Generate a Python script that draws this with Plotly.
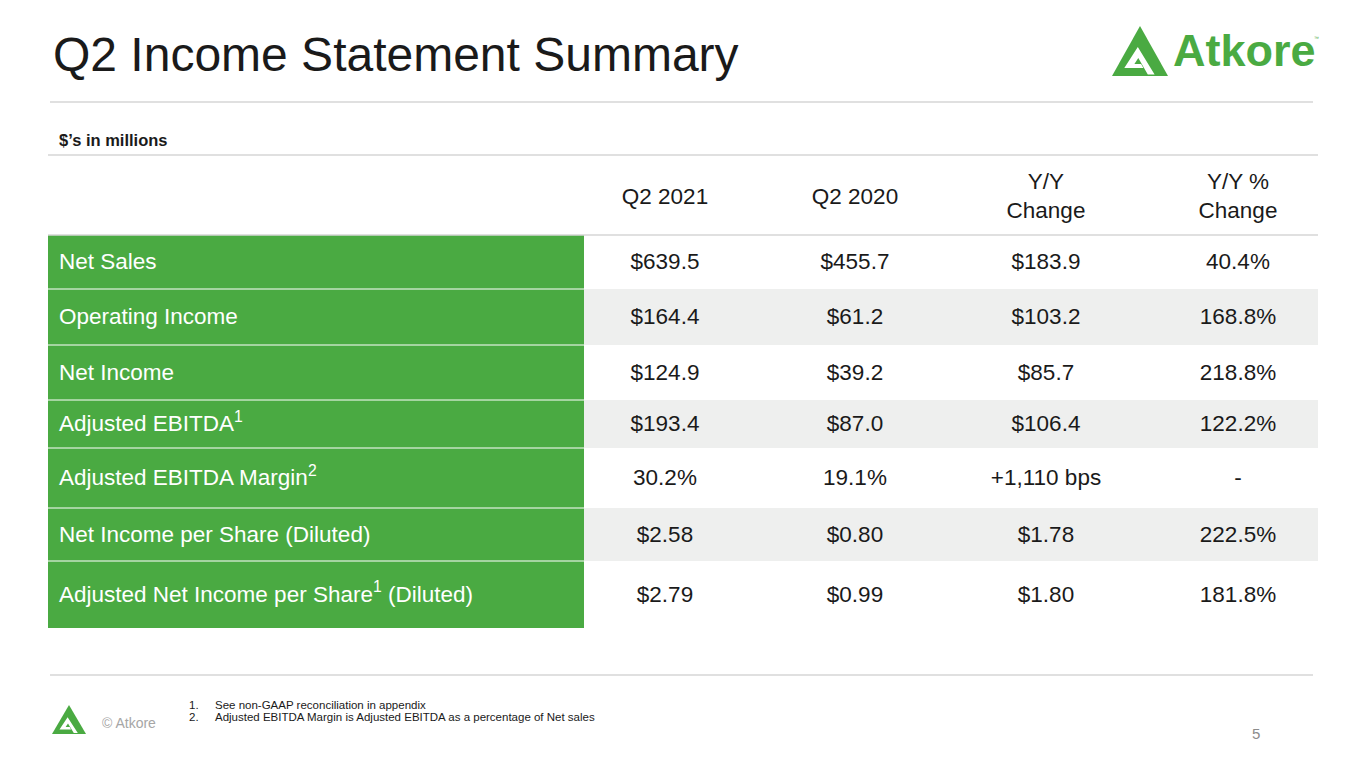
import plotly.graph_objects as go

# table content
col_headers = ["Q2 2021", "Q2 2020", "Y/Y<br>Change", "Y/Y %<br>Change"]
row_labels = [
    "Net Sales",
    "Operating Income",
    "Net Income",
    "Adjusted EBITDA<sup>1</sup>",
    "Adjusted EBITDA Margin<sup>2</sup>",
    "Net Income per Share (Diluted)",
    "Adjusted Net Income per Share<sup>1</sup> (Diluted)",
]
q2_2021 = ["$639.5", "$164.4", "$124.9", "$193.4", "30.2%", "$2.58", "$2.79"]
q2_2020 = ["$455.7", "$61.2", "$39.2", "$87.0", "19.1%", "$0.80", "$0.99"]
yy_change = ["$183.9", "$103.2", "$85.7", "$106.4", "+1,110 bps", "$1.78", "$1.80"]
yy_pct = ["40.4%", "168.8%", "218.8%", "122.2%", "-", "222.5%", "181.8%"]
footnotes = ["See non-GAAP reconciliation in appendix",
             "Adjusted EBITDA Margin is Adjusted EBITDA as a percentage of Net sales"]

# layout (pixel positions on the slide)
W, H = 1365, 768
PAD = 8  # page body margin
GREEN = "#4aaa42"
GREY = "#eeefee"
LINE = "#d6d6d6"
TXT = "#1a1a1a"
FONT = "Liberation Sans, Arial, sans-serif"
BODY = 22.5
row_edges = [235, 289, 345, 400, 448, 508, 561, 628]
col_x = [665, 855, 1046, 1238]
label_x0, label_x1, table_x1 = 48, 584, 1318

fig = go.Figure()
shapes = []

# cell backgrounds
for i in range(len(row_labels)):
    y0, y1 = row_edges[i], row_edges[i + 1]
    shapes.append(dict(type="rect", x0=label_x0, x1=label_x1, y0=y0, y1=y1,
                       fillcolor=GREEN, line_width=0, layer="below"))
    if i % 2 == 1:
        shapes.append(dict(type="rect", x0=label_x1, x1=table_x1, y0=y0, y1=y1,
                           fillcolor=GREY, line_width=0, layer="below"))
    if i > 0:
        shapes.append(dict(type="line", x0=label_x0, x1=label_x1, y0=y0, y1=y0,
                           line=dict(color="white", width=1)))

# rules
for y, xa, xb in [(102, 50, 1313), (155, 48, table_x1), (235, 48, table_x1), (675, 50, 1313)]:
    shapes.append(dict(type="line", x0=xa, x1=xb, y0=y, y1=y,
                       line=dict(color=LINE, width=1.5)))


def logo_mark(x0, y0, w, h):
    # green triangle with the inner cut of the Atkore mark
    def p(u, v):
        return f"{x0 + u * w:.1f},{y0 + v * h:.1f}"
    outer = f"M{p(0, 1)} L{p(0.5, 0)} L{p(1, 1)} Z"
    cut = (f"M{p(0.22, 0.84)} L{p(0.46, 0.42)} L{p(0.76, 0.97)} L{p(0.64, 0.97)} "
           f"L{p(0.47, 0.64)} L{p(0.40, 0.76)} L{p(0.52, 0.76)} L{p(0.56, 0.84)} Z")
    return [dict(type="path", path=outer, fillcolor=GREEN, line_width=0),
            dict(type="path", path=cut, fillcolor="white", line_width=0)]


shapes += logo_mark(1112, 26, 56, 50)
shapes += logo_mark(52, 705, 34, 29)

# header text
fig.add_trace(go.Scatter(
    x=col_x, y=[198] * 4, text=col_headers, mode="text",
    textfont=dict(family=FONT, size=BODY, color=TXT), textposition="middle center",
    hoverinfo="skip"))

# row labels
row_y = [(row_edges[i] + row_edges[i + 1]) / 2 + 1.5 for i in range(len(row_labels))]
fig.add_trace(go.Scatter(
    x=[label_x0 + 11] * len(row_labels), y=row_y, text=row_labels, mode="text",
    textfont=dict(family=FONT, size=BODY, color="white"), textposition="middle right",
    hoverinfo="skip"))

# data columns
for cx, col in zip(col_x, [q2_2021, q2_2020, yy_change, yy_pct]):
    fig.add_trace(go.Scatter(
        x=[cx] * len(col), y=row_y, text=col, mode="text",
        textfont=dict(family=FONT, size=BODY, color=TXT), textposition="middle center",
        hoverinfo="skip"))

annotations = [
    dict(x=51, y=54, text="Q2 Income Statement Summary", xanchor="left", yanchor="middle",
         font=dict(family=FONT, size=48, color=TXT)),
    dict(x=1171, y=50, text="<b>Atkore</b>", xanchor="left", yanchor="middle",
         font=dict(family=FONT, size=45, color=GREEN)),
    dict(x=1312, y=38, text="™", xanchor="left", yanchor="middle",
         font=dict(family=FONT, size=5, color=GREEN)),
    dict(x=57, y=140, text="<b>$’s in millions</b>", xanchor="left", yanchor="middle",
         font=dict(family=FONT, size=16.5, color=TXT)),
    dict(x=100, y=723, text="© Atkore", xanchor="left", yanchor="middle",
         font=dict(family=FONT, size=14, color="#a6a6a6")),
    dict(x=1256, y=733, text="5", xanchor="center", yanchor="middle",
         font=dict(family=FONT, size=15, color="#8c8c8c")),
]
for k, note in enumerate(footnotes):
    annotations.append(dict(x=187, y=705 + 12 * k, text=f"{k + 1}.", xanchor="left",
                            yanchor="middle", font=dict(family=FONT, size=11.5, color=TXT)))
    annotations.append(dict(x=213, y=705 + 12 * k, text=note, xanchor="left",
                            yanchor="middle", font=dict(family=FONT, size=11.5, color=TXT)))
for a in annotations:
    a.update(xref="x", yref="y", showarrow=False)

fig.update_layout(
    width=W - 2 * PAD, height=H - 2 * PAD, margin=dict(l=0, r=0, t=0, b=0),
    paper_bgcolor="white", plot_bgcolor="white", showlegend=False,
    shapes=shapes, annotations=annotations,
    xaxis=dict(range=[PAD, W - PAD], visible=False, fixedrange=True),
    yaxis=dict(range=[H - PAD, PAD], visible=False, fixedrange=True),
)

fig.write_html("out.html")
